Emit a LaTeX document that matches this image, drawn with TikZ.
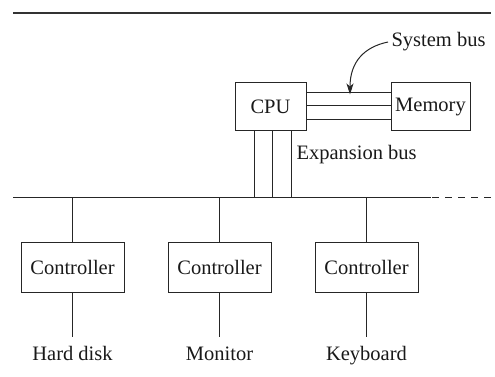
\documentclass[tikz,border=0pt]{standalone}
\usepackage{fontspec}
\setmainfont{Liberation Serif}
\usetikzlibrary{arrows.meta}
\begin{document}
\begin{tikzpicture}[x=1pt,y=-1pt,
  line width=1pt, draw=black!85,
  every node/.style={font=\fontsize{20.5}{25}\selectfont, text=black!90},
  unit/.style={draw, line width=1pt, inner sep=0pt, minimum height=48pt},
  ctl/.style={draw, line width=1pt, inner sep=0pt, minimum width=103pt, minimum height=50pt},
  lbl/.style={anchor=base, inner sep=0pt},
  wire/.style={line width=1pt, draw=black!85}]
\useasboundingbox (0,0) rectangle (495,377);

% top rule
\coordinate (ruleL) at (13,13);
\coordinate (ruleR) at (491,13);
\draw[line width=2pt, draw=black!80] (ruleL) -- (ruleR);

% processor and memory
\node[unit, minimum width=71pt] (cpu) at (270.5,107) {CPU};
\node[unit, minimum width=79pt] (mem) at (430.5,107) {Memory};

% system bus: three parallel lines
\foreach \dy in {-12.5,1,14.5}
  \draw[wire] ([yshift=\dy pt]cpu.east) -- ([yshift=\dy pt]mem.west);

% system bus label and pointer
\node[anchor=base west, inner sep=0pt] (sysbus) at (391,47) {System bus};
\coordinate (sysstart) at (388,42);
\coordinate (systip) at (350,94.5);
\draw[wire, -{Stealth[length=11pt, width=7pt, inset=3pt]}]
  (sysstart) .. controls (364,47) and (350,62) .. (systip);

% expansion bus
\coordinate (busL) at (13,197);
\coordinate (busM) at (431,197);
\coordinate (busR) at (491,197);
\draw[wire] (busL) -- (busM);
\draw[wire, dash pattern=on 7pt off 6pt] (busM) ++(1,0) -- (busR);

\foreach \dx in {-16.5,1.5,20.5}
  \draw[wire] ([xshift=\dx pt]cpu.south) -- ([xshift=\dx pt]cpu.south |- busL);
\node[anchor=base west, inner sep=0pt] (expbus) at (296,159) {Expansion bus};

% controllers and devices
\node[ctl] (c1) at (72.5,267) {Controller};
\node[ctl] (c2) at (219.5,267) {Controller};
\node[ctl] (c3) at (366.5,267) {Controller};

\node[lbl] (d1) at (72.5,360) {Hard disk};
\node[lbl] (d2) at (219.5,360) {Monitor};
\node[lbl] (d3) at (366.5,360) {Keyboard};

\foreach \c/\d in {c1/d1,c2/d2,c3/d3} {
  \draw[wire] (\c.north) -- (\c.north |- busL);
  \draw[wire] (\c.south) -- ([yshift=23pt]\d.base);
}
\end{tikzpicture}
\end{document}
